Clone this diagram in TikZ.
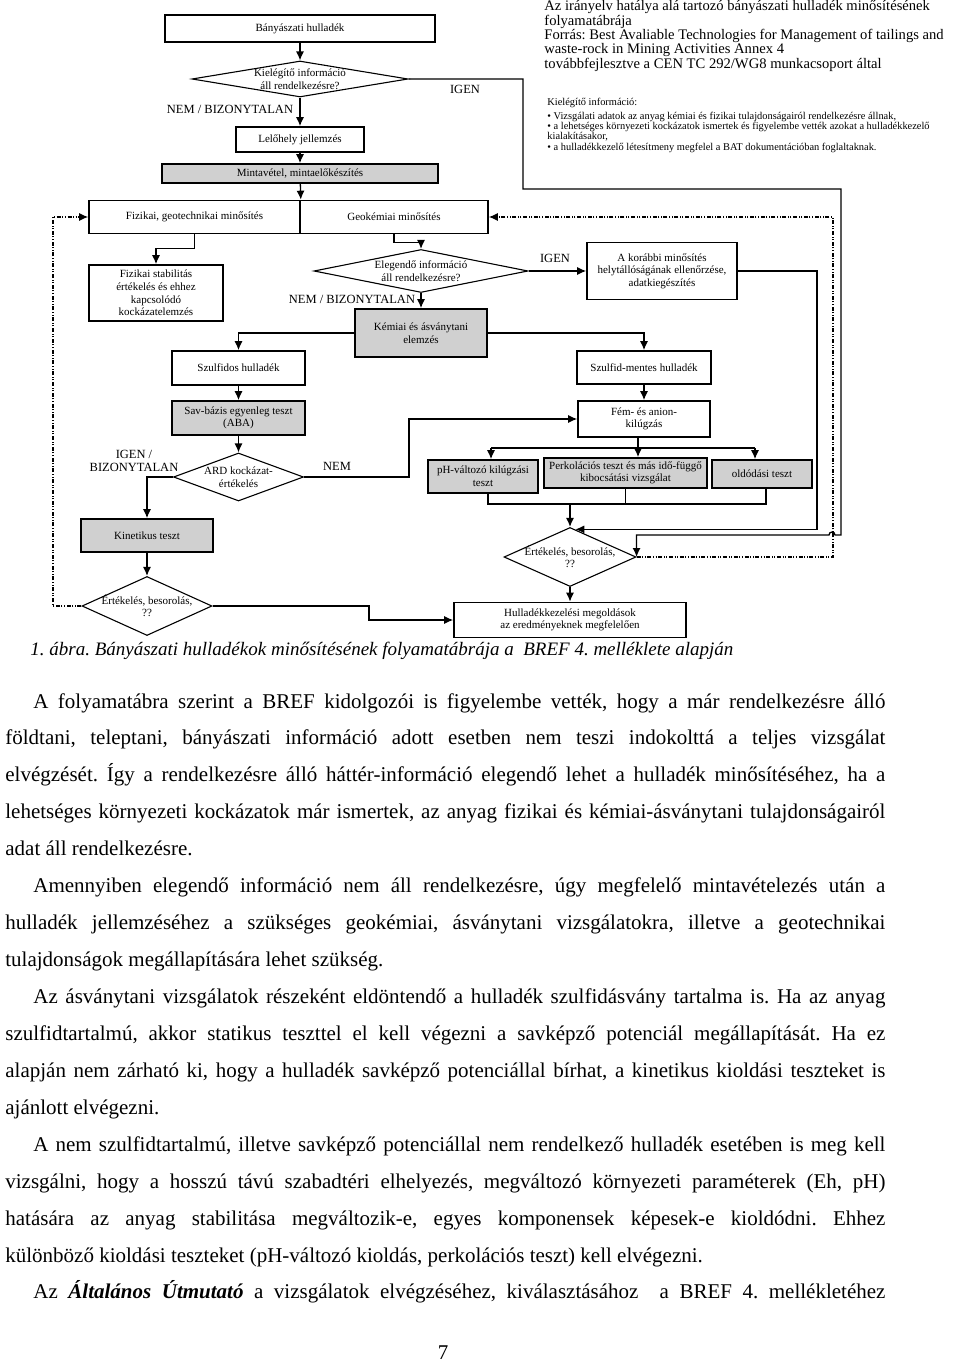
\documentclass[tikz,border=0pt]{standalone}
\usepackage{fontspec}
\setmainfont{Liberation Serif}
\usetikzlibrary{shapes.geometric,arrows.meta,calc}
\definecolor{boxgray}{RGB}{208,208,208}
\newcommand\fchart{\fontsize{5.5pt}{6.3pt}\selectfont}
\newcommand\flabel{\fontsize{6.25pt}{6.6pt}\selectfont}
\newcommand\ftitle{\fontsize{7.3pt}{7.4pt}\selectfont}
\newcommand\fsmall{\fontsize{5.2pt}{5.2pt}\selectfont}
\newcommand\fbody{\fontsize{10.5pt}{12pt}\selectfont}
\newcommand\fcapt{\fontsize{9.5pt}{11pt}\selectfont\itshape}
\newcommand\jline[2]{\makebox[#1][s]{#2}}
\frenchspacing
\begin{document}
\begin{tikzpicture}[x=0.5pt,y=-0.5pt,
  box/.style 2 args={draw, line width=0.8pt, minimum width=#1*0.5pt, minimum height=#2*0.5pt, inner sep=0pt, align=center, font=\fchart},
  gbox/.style 2 args={box={#1}{#2}, fill=boxgray},
  dia/.style 2 args={draw, shape=diamond, line width=0.55pt, minimum width=#1*0.5pt, minimum height=#2*0.5pt, inner sep=0pt},
  dtext/.style={align=center, font=\fchart, inner sep=0pt},
  lab/.style={font=\flabel, inner sep=0pt, align=center},
  arr/.style={line width=0.65pt, -{Latex[length=4.5pt,width=4pt]}},
  ln/.style={line width=0.65pt},
  dd/.style={line width=0.6pt, dash pattern=on 2pt off 0.8pt on 0.5pt off 0.8pt on 0.5pt off 0.8pt},
  ttl/.style={anchor=base west, inner sep=0pt, font=\ftitle},
  sml/.style={anchor=base west, inner sep=0pt, font=\fsmall},
  body/.style={anchor=base west, inner sep=0pt, font=\fbody},
]
\fill[white] (0,0) rectangle (960,1363);
\useasboundingbox (0,0) rectangle (960,1363);

% ---- title and notes (top right)
\node[ttl] (t1) at (544,10.5) {Az irányelv hatálya alá tartozó bányászati hulladék minősítésének};
\node[ttl] (t2) at (544,25.5) {folyamatábrája};
\node[ttl] (t3) at (544,39.5) {Forrás: Best Avaliable Technologies for Management of tailings and};
\node[ttl] (t4) at (544,53.5) {waste-rock in Mining Activities Annex 4};
\node[ttl] (t5) at (544,68.5) {továbbfejlesztve a CEN TC 292/WG8 munkacsoport által};
\node[sml] (s1) at (547,105.5) {Kielégítő információ:};
\node[sml] (s2) at (547,119.5) {• Vizsgálati adatok az anyag kémiai és fizikai tulajdonságairól rendelkezésre állnak,};
\node[sml] (s3) at (547,129.5) {• a lehetséges környezeti kockázatok ismertek és figyelembe vették azokat a hulladékkezelő};
\node[sml] (s4) at (547,139.5) {kialakításakor,};
\node[sml] (s5) at (547,150.5) {• a hulladékkezelő létesítmeny megfelel a BAT dokumentációban foglaltaknak.};

% ---- flowchart nodes
\node[box={270}{27}] (bany) at (300,28.5) {Bányászati hulladék};
\node[dia={216}{36}] (d1) at (300,79) {};
\node[dtext] (d1t) at (300,79) {Kielégítő információ\\áll rendelkezésre?};
\node[lab] (lig1) at (465,89) {IGEN};
\node[lab] (lnem1) at (230,109) {NEM / BIZONYTALAN};
\node[box={128}{25}] (lel) at (300,139.5) {Lelőhely jellemzés};
\node[gbox={276}{19}] (minta) at (300,173.5) {Mintavétel, mintaelőkészítés};
\node[box={211}{33}] (fiz) at (194.5,217) {Fizikai, geotechnikai minősítés};
\node[box={188}{33}] (geo) at (394,217) {Geokémiai minősítés};
\node[box={134}{56}] (fstab) at (156,293) {Fizikai stabilitás\\értékelés és ehhez\\kapcsolódó\\kockázatelemzés};
\node[dia={214}{43}] (d2) at (421,271) {};
\node[dtext] (d2t) at (421,271) {Elegendő információ\\áll rendelkezésre?};
\node[lab] (lig2) at (555,258) {IGEN};
\node[lab] (lnem2) at (352,299) {NEM / BIZONYTALAN};
\node[box={150}{57}] (kor) at (662,271) {A korábbi minősítés\\helytállóságának ellenőrzése,\\adatkiegészítés};
\node[gbox={132}{48}] (kem) at (421,333) {Kémiai és ásványtani\\elemzés};
\node[box={133}{34}] (szulf) at (238.5,368) {Szulfidos hulladék};
\node[box={134}{33}] (szm) at (644,367.5) {Szulfid-mentes hulladék};
\node[gbox={133}{34}] (aba) at (238.5,418) {Sav-bázis egyenleg teszt\\(ABA)};
\node[box={132}{36}] (fem) at (644,419) {Fém- és anion-\\kilúgzás};
\node[dia={130}{48}] (ard) at (238.5,477) {};
\node[dtext] (ardt) at (238.5,477) {ARD kockázat-\\értékelés};
\node[lab] (lig3) at (134,461) {IGEN /\\BIZONYTALAN};
\node[lab] (lnem3) at (337,466) {NEM};
\node[gbox={110}{33}] (ph) at (483,476.5) {pH-változó kilúgzási\\teszt};
\node[gbox={163}{30}] (perk) at (625.5,473) {Perkolációs teszt és más idő-függő\\kibocsátási vizsgálat};
\node[gbox={100}{28}] (old) at (762,474) {oldódási teszt};
\node[gbox={132}{33}] (kin) at (147,535.5) {Kinetikus teszt};
\node[dia={130}{59}] (e1) at (147,606) {};
\node[dtext] (e1t) at (147,606) {Értékelés, besorolás,\\??};
\node[dia={132}{59}] (e2) at (570,557) {};
\node[dtext] (e2t) at (570,557) {Értékelés, besorolás,\\??};
\node[box={232}{35}] (hull) at (570,620) {Hulladékkezelési megoldások\\az eredményeknek megfelelően};

% ---- helper coordinates
\coordinate (ig1) at (523,189);
\coordinate (ig2) at (841,189);
\coordinate (ig3) at (841,535);
\coordinate (hopc) at (832,535);
\coordinate (nm) at (409,419);
\coordinate (fb) at (638,448);
\coordinate (fbl) at (491,448);
\coordinate (fbr) at (755,448);
\coordinate (m1) at (488,504);
\coordinate (m2) at (766,504);
\coordinate (mg) at (570,504);
\coordinate (e2in) at ($(e2.north)!0.08!(e2.east)$);
\coordinate (k1) at (817,271);
\coordinate (h1) at (369,620);
\coordinate (dl) at (53,217);
\coordinate (dr) at (833,217);

% ---- connectors
\draw[arr] (bany) -- (d1);
\draw[arr] (d1) -- (lel);
\draw[arr] (lel) -- (minta);
\draw[arr] (minta) -- (fiz.north east);
\draw[arr] (d1.east) -| (ig1) -- (ig2) -- (ig3) -- ($(hopc)+(3,0)$)
   arc[start angle=0,end angle=-180,radius=3] -| (e2.east);
\draw[arr] (fiz.south) -- ++(0,14) -| (fstab.north);
\draw[arr] (geo.south) -- ++(0,8) -| (d2.north);
\draw[arr] (d2.east) -- (kor.west);
\draw[arr] (d2.south) -- (kem.north);
\draw[arr] (kem.west) -| (szulf.north);
\draw[arr] (kem.east) -| (szm.north);
\draw[arr] (szulf) -- (aba);
\draw[arr] (aba) -- (ard);
\draw[arr] (ard.west) -| (kin.north);
\draw[arr] (ard.east) -| (nm) -- (fem.west);
\draw[arr] (szm) -- (fem);
\draw[ln] (fem.south -| fb) -- (fb);
\draw[ln] (fbl) -- (fbr);
\draw[arr] (fb) -- (fb |- perk.north);
\draw[arr] (fbl) -- (fbl |- ph.north);
\draw[arr] (fbr) -- (fbr |- old.north);
\draw[ln] (m1 |- ph.south) -- (m1) -- (m2) -- (m2 |- old.south);
\draw[ln] (perk.south) -- (perk.south |- mg);
\draw[arr] (mg) -- (e2.north);
\draw[arr] (kor.east) -- (k1) -- (k1 |- e2in) -- (e2in);
\draw[arr] (e2) -- (hull);
\draw[arr] (kin) -- (e1);
\draw[arr] (e1.east) -| (h1) -- (hull.west);
\draw[dd, -{Latex[length=4.5pt,width=4pt]}] (e1.west) -| (dl) -- (fiz.west);
\draw[dd, -{Latex[length=4.5pt,width=4pt]}] (e2.east) -| (dr) -- (geo.east);

% ---- caption
\node[anchor=base west, inner sep=0pt, font=\fcapt] (cap) at (30,655) {1. ábra. Bányászati hulladékok minősítésének folyamatábrája a \ BREF 4. melléklete alapján};

% ---- body text
\node[body] (p1) at (33,708.0) {\jline{426pt}{A folyamatábra szerint a BREF kidolgozói is figyelembe vették, hogy a már rendelkezésre álló}};
\node[body] (p2) at (5,744.9) {\jline{440pt}{földtani, teleptani, bányászati információ adott esetben nem teszi indokolttá a teljes vizsgálat}};
\node[body] (p3) at (5,781.9) {\jline{440pt}{elvégzését. Így a rendelkezésre álló háttér-információ elegendő lehet a hulladék minősítéséhez, ha a}};
\node[body] (p4) at (5,818.8) {\jline{440pt}{lehetséges környezeti kockázatok már ismertek, az anyag fizikai és kémiai-ásványtani tulajdonságairól}};
\node[body] (p5) at (5,855.7) {adat áll rendelkezésre.};
\node[body] (p6) at (33,892.7) {\jline{426pt}{Amennyiben elegendő információ nem áll rendelkezésre, úgy megfelelő mintavételezés után a}};
\node[body] (p7) at (5,929.6) {\jline{440pt}{hulladék jellemzéséhez a szükséges geokémiai, ásványtani vizsgálatokra, illetve a geotechnikai}};
\node[body] (p8) at (5,966.5) {tulajdonságok megállapítására lehet szükség.};
\node[body] (p9) at (33,1003.4) {\jline{426pt}{Az ásványtani vizsgálatok részeként eldöntendő a hulladék szulfidásvány tartalma is. Ha az anyag}};
\node[body] (p10) at (5,1040.4) {\jline{440pt}{szulfidtartalmú, akkor statikus teszttel el kell végezni a savképző potenciál megállapítását. Ha ez}};
\node[body] (p11) at (5,1077.3) {\jline{440pt}{alapján nem zárható ki, hogy a hulladék savképző potenciállal bírhat, a kinetikus kioldási teszteket is}};
\node[body] (p12) at (5,1114.2) {ajánlott elvégezni.};
\node[body] (p13) at (33,1151.2) {\jline{426pt}{A nem szulfidtartalmú, illetve savképző potenciállal nem rendelkező hulladék esetében is meg kell}};
\node[body] (p14) at (5,1188.1) {\jline{440pt}{vizsgálni, hogy a hosszú távú szabadtéri elhelyezés, megváltozó környezeti paraméterek (Eh, pH)}};
\node[body] (p15) at (5,1225.0) {\jline{440pt}{hatására az anyag stabilitása megváltozik-e, egyes komponensek képesek-e kioldódni. Ehhez}};
\node[body] (p16) at (5,1262.0) {különböző kioldási teszteket (pH-változó kioldás, perkolációs teszt) kell elvégezni.};
\node[body] (p17) at (33,1298.9) {\jline{426pt}{Az {\bfseries\itshape Általános Útmutató} a vizsgálatok elvégzéséhez, kiválasztásához \ a BREF 4. mellékletéhez}};
\node[anchor=base, inner sep=0pt, font=\fbody] (pg) at (443,1359) {7};
\end{tikzpicture}
\end{document}
